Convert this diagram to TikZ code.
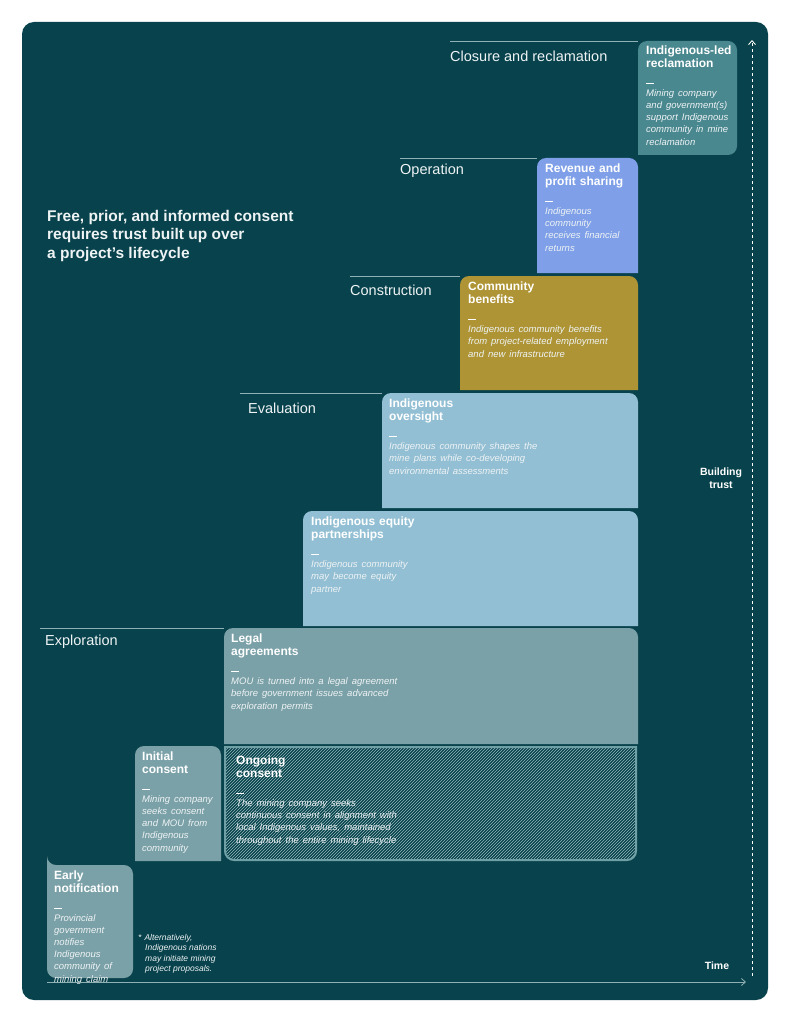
\documentclass[tikz,border=0pt]{standalone}
\usepackage{fontspec}
\setmainfont{Liberation Sans}
\usetikzlibrary{positioning, patterns, arrows.meta}
\definecolor{bgteal}{HTML}{08424C}
\definecolor{greyteal}{HTML}{7BA1A8}
\definecolor{skyblue}{HTML}{93BFD4}
\definecolor{ochre}{HTML}{AE9434}
\definecolor{periwinkle}{HTML}{7FA0E8}
\definecolor{seateal}{HTML}{4A8890}
\definecolor{linegrey}{HTML}{8FB0B5}
\definecolor{bodytxt}{HTML}{EEF3F4}
\tikzset{
  stagetxt/.style={anchor=north west, inner sep=0pt, align=left, text=white, font=\fontsize{12}{13}\selectfont},
  phase/.style={anchor=west, inner sep=0pt, text=bodytxt, font=\fontsize{14.5}{16}\selectfont},
  phaseline/.style={draw=linegrey, line width=0.6pt},
}
% box with rounded top-left corner
\newcommand{\stagebox}[5]{%
  \fill[#5] (#1,#4) {[rounded corners=9pt] -- (#1,#2) -- (#3,#2)} -- (#3,#4) -- cycle;}
\newcommand{\stagebody}[2]{{\bfseries #1}\\[3pt]\rule{8pt}{1.2pt}\\[1pt]{\fontsize{9.5}{12}\selectfont\itshape\color{bodytxt}#2}}

\begin{document}
\begin{tikzpicture}[x=1pt, y=-1pt]
\useasboundingbox (0,0) rectangle (791,1024);
\fill[bgteal, rounded corners=12pt] (22,22) rectangle (768,1000);

% phase lines and labels
\draw[phaseline] (40,628) -- (224,628);
\node[phase] (expl) at (45,642) {Exploration};
\draw[phaseline] (240,393) -- (382,393);
\node[phase] (eval) at (248,408) {Evaluation};
\draw[phaseline] (350,276) -- (460,276);
\node[phase] (cons) at (350,290) {Construction};
\draw[phaseline] (400,158) -- (537,158);
\node[phase] (oper) at (400,171) {Operation};
\draw[phaseline] (450,41) -- (638,41);
\node[phase] (clos) at (450,56) {Closure and reclamation};

% stages
\fill[greyteal] (47,865) {[rounded corners=9pt] -- (47,978) -- (133,978) -- (133,865)} {[rounded corners=9pt] -- (47,865)} -- cycle;
\node[stagetxt, text width=76pt] (early) at (54,871) {\stagebody{Early\\notification}{Provincial\\government\\notifies\\Indigenous\\community of\\mining claim}};
\stagebox{135}{746}{221}{861}{greyteal}
\node[stagetxt, text width=80pt] (init) at (142,752) {\stagebody{Initial\\consent}{Mining company\\seeks consent\\and MOU from\\Indigenous\\community}};
\fill[bgteal] (225,747) {[rounded corners=9pt] -- (225,860) -- (636,860)} -- (636,747) -- cycle;
\path[pattern=north east lines, pattern color=seateal!60] (225,747) {[rounded corners=9pt] -- (225,860) -- (636,860)} -- (636,747) -- cycle;
\draw[seateal!80, line width=2pt] (225,747) {[rounded corners=9pt] -- (225,860) -- (636,860)} -- (636,747) -- cycle;
\node[stagetxt, text width=200pt] (ongo) at (236,756) {\stagebody{Ongoing\\consent}{The mining company seeks\\continuous consent in alignment with\\local Indigenous values, maintained\\throughout the entire mining lifecycle}};
\stagebox{224}{628}{638}{744}{greyteal}
\node[stagetxt, text width=200pt] (legal) at (231,634) {\stagebody{Legal\\agreements}{MOU is turned into a legal agreement\\before government issues advanced\\exploration permits}};
\stagebox{303}{511}{638}{626}{skyblue}
\node[stagetxt, text width=200pt] (equity) at (311,517) {\stagebody{Indigenous equity\\partnerships}{Indigenous community\\may become equity\\partner}};
\stagebox{382}{393}{638}{508}{skyblue}
\node[stagetxt, text width=200pt] (over) at (389,399) {\stagebody{Indigenous\\oversight}{Indigenous community shapes the\\mine plans while co-developing\\environmental assessments}};
\stagebox{460}{276}{638}{390}{ochre}
\node[stagetxt, text width=170pt] (bene) at (468,282) {\stagebody{Community\\benefits}{Indigenous community benefits\\from project-related employment\\and new infrastructure}};
\stagebox{537}{158}{638}{273}{periwinkle}
\node[stagetxt, text width=95pt] (reve) at (545,164) {\stagebody{Revenue and\\profit sharing}{Indigenous\\community\\receives financial\\returns}};
\fill[seateal] (638,155) {[rounded corners=9pt] -- (638,41) -- (737,41) -- (737,155)} -- cycle;
\node[stagetxt, text width=95pt] (recl) at (646,46) {\stagebody{Indigenous-led\\reclamation}{Mining company\\and government(s)\\support Indigenous\\community in mine\\reclamation}};

% title and footnote
\node[anchor=north west, inner sep=0pt, align=left, text=bodytxt, font=\fontsize{15.5}{18.5}\selectfont\bfseries] (title) at (47,210) {Free, prior, and informed consent\\requires trust built up over\\a project’s lifecycle};
\node[anchor=north west, inner sep=0pt, align=left, text=bodytxt, font=\fontsize{8.5}{10.5}\selectfont\itshape] (note) at (138,934) {*\hspace{3pt}Alternatively,\\\hspace{7pt}Indigenous nations\\\hspace{7pt}may initiate mining\\\hspace{7pt}project proposals.};

% axes
\coordinate (ybot) at (752,976);
\coordinate (ytop) at (752,40);
\draw[white, dashed, line width=0.9pt, -{Straight Barb[length=4pt, width=7pt]}] (ybot) -- (ytop);
\coordinate (xleft) at (47,982);
\coordinate (xright) at (746,982);
\draw[linegrey, line width=0.8pt, -{Straight Barb[length=4pt, width=7pt]}] (xleft) -- (xright);
\node[text=white, font=\fontsize{10.5}{12.5}\selectfont\bfseries, align=center, anchor=center] (trust) at (721,478) {Building\\trust};
\node[text=white, font=\fontsize{10.5}{12.5}\selectfont\bfseries, anchor=center] (time) at (717,966) {Time};
\end{tikzpicture}
\end{document}
